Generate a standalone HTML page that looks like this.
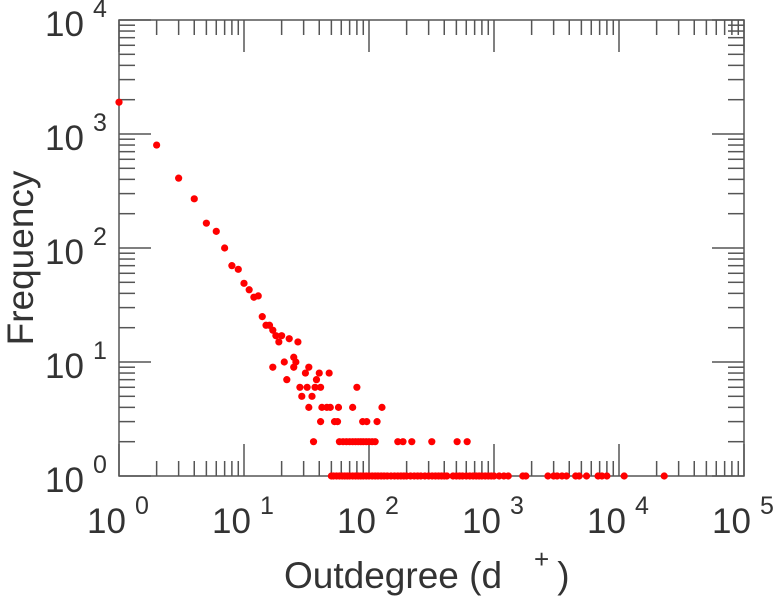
<!DOCTYPE html>
<html><head><meta charset="utf-8"><style>
html,body{margin:0;padding:0;background:#fff;}
svg{display:block;font-family:"Liberation Sans",sans-serif;}
</style></head><body>
<svg id="chart" width="778" height="600" xmlns="http://www.w3.org/2000/svg">
<g id="axes"></g>
<g id="pts"></g>
<text transform="translate(33,258) rotate(-90)" text-anchor="middle" font-size="37" fill="#333">Frequency</text>
<text x="284" y="588" font-size="37" fill="#333">Outdegree (d<tspan dx="32" dy="-20" font-size="26">+</tspan><tspan dx="8" dy="20">)</tspan></text>
</svg>
<script>
const xTickExps = [0,1,2,3,4,5];
const yTickExps = [0,1,2,3,4];
const degrees = [1,2,3,4,5,6,7,8,9,10,11,12,13,14,15,16,17,18,19,20,23,27,
17,21,25,26,25,33,31,40,48,22,38,28,32,37,41,80,29,35,
33,42,46,49,57,74,127,41,53,56,89,96,116,
36,58,62,66,70,74,78,82,86,90,95,100,106,112,170,187,220,318,507,610];
const freqs = [1900,800,410,270,165,140,100,70,65,49,43,37,38,25,21,21,19,17,15,17,16,15,
9,10,11,10,9,9,8,8,8,7,7,6,6,6,6,6,5,5,
4,4,4,4,4,4,4,3,3,3,3,3,3,
2,2,2,2,2,2,2,2,2,2,2,2,2,2,2,2,2,2,2,2];
const onesDegrees = [50,52,55,58,61,64,67,70,74,78,82,86,90,95,100,106,112,118,125,132,140,150,160,170,180,190,200,215,230,245,260,280,300,320,340,360,380,400,420,470,500,530,560,600,640,680,720,760,800,850,900,950,1000,1100,1200,1300,1700,1800,2700,3000,3200,3500,3800,4500,4800,5500,6800,7300,8000,11000,23000];

const L=119,R=744,T=20,B=476;
const sx = v => L + (Math.log10(v)-0)/5*(R-L);
const sy = v => B - (Math.log10(v)-0)/4*(B-T);
const NS="http://www.w3.org/2000/svg";
const axes=document.getElementById('axes');
function ln(x1,y1,x2,y2){const e=document.createElementNS(NS,'line');
e.setAttribute('x1',x1);e.setAttribute('y1',y1);e.setAttribute('x2',x2);e.setAttribute('y2',y2);
e.setAttribute('stroke','#555');e.setAttribute('stroke-width','1.5');axes.appendChild(e);return e;}
const frame=document.createElementNS(NS,'rect');
frame.setAttribute('x',L);frame.setAttribute('y',T);frame.setAttribute('width',R-L);frame.setAttribute('height',B-T);
frame.setAttribute('fill','none');frame.setAttribute('stroke','#555');frame.setAttribute('stroke-width','1.5');


axes.appendChild(frame);
function label(x,y,exp,name){
  const t=document.createElementNS(NS,'text');
  t.setAttribute('x',x);t.setAttribute('y',y);t.setAttribute('font-size','35');t.setAttribute('fill','#333');
  t.innerHTML='10<tspan dx="9" dy="-19" font-size="25">'+exp+'</tspan>';
  
  
  axes.appendChild(t);
}
xTickExps.forEach(e=>{
  const x=sx(Math.pow(10,e));
  ln(x,B,x,B-32);ln(x,T,x,T+32);
  if(e<5){for(let m=2;m<10;m++){const xm=sx(m*Math.pow(10,e));ln(xm,B,xm,B-15);ln(xm,T,xm,T+15);}}
  label(x-32,533,e,'x-tick-label');
});
yTickExps.forEach(e=>{
  const y=sy(Math.pow(10,e));
  ln(L,y,L+32,y);ln(R,y,R-32,y);
  if(e<4){for(let m=2;m<10;m++){const ym=sy(m*Math.pow(10,e));ln(L,ym,L+16,ym);ln(R,ym,R-16,ym);}}
  label(45,y+16,e,'y-tick-label');
});
const pts=document.getElementById('pts');
function dot(d,f){const c=document.createElementNS(NS,'circle');
c.setAttribute('cx',sx(d));c.setAttribute('cy',sy(f));c.setAttribute('r','3.6');c.setAttribute('fill','#ff0000');


pts.appendChild(c);}
degrees.forEach((d,i)=>dot(d,freqs[i]));
onesDegrees.forEach(d=>dot(d,1));
</script>
</body></html>
